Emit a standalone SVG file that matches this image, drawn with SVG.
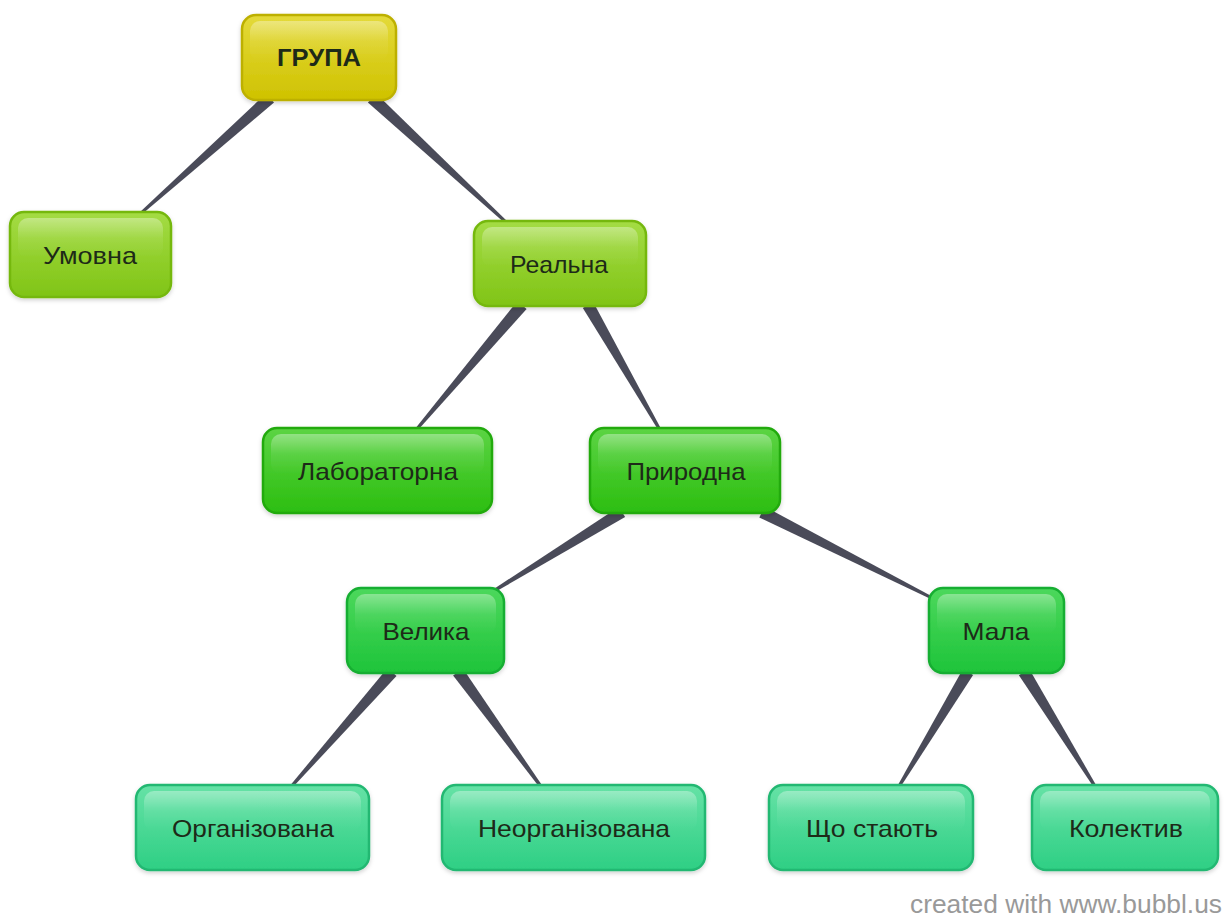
<svg xmlns="http://www.w3.org/2000/svg" width="1228" height="918" viewBox="0 0 1228 918">
<defs>
<linearGradient id="gY" x1="0" y1="0" x2="0" y2="1"><stop offset="0" stop-color="#e4da3a"/><stop offset="1" stop-color="#cfc200"/></linearGradient>
<linearGradient id="g1" x1="0" y1="0" x2="0" y2="1"><stop offset="0" stop-color="#a4dc44"/><stop offset="1" stop-color="#80c416"/></linearGradient>
<linearGradient id="g2" x1="0" y1="0" x2="0" y2="1"><stop offset="0" stop-color="#5cd444"/><stop offset="1" stop-color="#2cbe10"/></linearGradient>
<linearGradient id="g3" x1="0" y1="0" x2="0" y2="1"><stop offset="0" stop-color="#4cd85c"/><stop offset="1" stop-color="#1ec43a"/></linearGradient>
<linearGradient id="g4" x1="0" y1="0" x2="0" y2="1"><stop offset="0" stop-color="#66e2a6"/><stop offset="1" stop-color="#2ecf84"/></linearGradient>
<linearGradient id="hl" x1="0" y1="0" x2="0" y2="1"><stop offset="0" stop-color="#ffffff" stop-opacity="0.35"/><stop offset="0.5" stop-color="#ffffff" stop-opacity="0.08"/><stop offset="1" stop-color="#ffffff" stop-opacity="0"/></linearGradient>
<filter id="sh" x="-10%" y="-10%" width="120%" height="130%"><feDropShadow dx="0" dy="2" stdDeviation="2" flood-color="#000" flood-opacity="0.18"/></filter>
</defs>
<style>
.n rect.o{stroke-width:2.5;filter:url(#sh)}
.n rect.h{fill:url(#hl)}
.n text{font-family:"Liberation Sans",Arial,sans-serif;font-size:24px;fill:#1d2a18;text-anchor:middle}
.y rect.o{fill:url(#gY);stroke:#bdb000}
.l1 rect.o{fill:url(#g1);stroke:#74b80e}
.l2 rect.o{fill:url(#g2);stroke:#22aa0c}
.l3 rect.o{fill:url(#g3);stroke:#16ae30}
.l4 rect.o{fill:url(#g4);stroke:#22b872}
.c polygon{fill:#4a4b59}
.wm{font-family:"Liberation Sans",Arial,sans-serif;font-size:25px;fill:#999999;text-anchor:end}
</style>
<rect width="1228" height="918" fill="#ffffff"/>
<g id="connectors" class="c">
<polygon points="266,93.5 139,212.9 141,215.1 274,102.5"/>
<polygon points="367.9,102.4 507,225.1 509,222.9 376.1,93.6"/>
<polygon points="517.4,301.1 414.9,429 417.1,431 526.6,308.9"/>
<polygon points="582.8,308 658.7,430.75 661.3,429.25 593.2,302"/>
<polygon points="618.9,506.9 491.2,590.7 492.8,593.3 625.1,517.1"/>
<polygon points="759.3,517.4 931.3,599.3 932.7,596.7 764.7,506.6"/>
<polygon points="387.5,668 288.9,787 291.1,789 396.5,676"/>
<polygon points="453.1,675.5 540.8,788.9 543.2,787.1 462.9,668.5"/>
<polygon points="962.9,668.9 896.7,787.2 899.3,788.8 973.1,675.1"/>
<polygon points="1018.9,675.2 1094.7,788.8 1097.3,787.2 1029.1,668.8"/>
</g>
<g id="n-grupa" class="n y"><rect class="o" x="242" y="15" width="154" height="85" rx="14"/><rect class="h" x="250" y="21" width="138" height="40" rx="10"/><text x="319" y="66" font-weight="bold" font-size="23" textLength="84" lengthAdjust="spacingAndGlyphs">ГРУПА</text></g>
<g id="n-umovna" class="n l1"><rect class="o" x="10" y="212" width="161" height="85" rx="14"/><rect class="h" x="18" y="218" width="145" height="40" rx="10"/><text x="90" y="264" textLength="94" lengthAdjust="spacingAndGlyphs">Умовна</text></g>
<g id="n-realna" class="n l1"><rect class="o" x="474" y="221" width="172" height="85" rx="14"/><rect class="h" x="482" y="227" width="156" height="40" rx="10"/><text x="559" y="273" textLength="98" lengthAdjust="spacingAndGlyphs">Реальна</text></g>
<g id="n-lab" class="n l2"><rect class="o" x="263" y="428" width="229" height="85" rx="14"/><rect class="h" x="271" y="434" width="213" height="40" rx="10"/><text x="378" y="480" textLength="160" lengthAdjust="spacingAndGlyphs">Лабораторна</text></g>
<g id="n-pryrodna" class="n l2"><rect class="o" x="590" y="428" width="190" height="85" rx="14"/><rect class="h" x="598" y="434" width="174" height="40" rx="10"/><text x="686" y="480" textLength="119" lengthAdjust="spacingAndGlyphs">Природна</text></g>
<g id="n-velyka" class="n l3"><rect class="o" x="347" y="588" width="157" height="85" rx="14"/><rect class="h" x="355" y="594" width="141" height="40" rx="10"/><text x="426" y="640" textLength="87" lengthAdjust="spacingAndGlyphs">Велика</text></g>
<g id="n-mala" class="n l3"><rect class="o" x="929" y="588" width="135" height="85" rx="14"/><rect class="h" x="937" y="594" width="119" height="40" rx="10"/><text x="996" y="640" textLength="67" lengthAdjust="spacingAndGlyphs">Мала</text></g>
<g id="n-org" class="n l4"><rect class="o" x="136" y="785" width="233" height="85" rx="14"/><rect class="h" x="144" y="791" width="217" height="40" rx="10"/><text x="253" y="837" textLength="162" lengthAdjust="spacingAndGlyphs">Організована</text></g>
<g id="n-neorg" class="n l4"><rect class="o" x="442" y="785" width="263" height="85" rx="14"/><rect class="h" x="450" y="791" width="247" height="40" rx="10"/><text x="574" y="837" textLength="192" lengthAdjust="spacingAndGlyphs">Неорганізована</text></g>
<g id="n-scho" class="n l4"><rect class="o" x="769" y="785" width="204" height="85" rx="14"/><rect class="h" x="777" y="791" width="188" height="40" rx="10"/><text x="872" y="837" textLength="132" lengthAdjust="spacingAndGlyphs">Що стають</text></g>
<g id="n-kolektyv" class="n l4"><rect class="o" x="1032" y="785" width="186" height="85" rx="14"/><rect class="h" x="1040" y="791" width="170" height="40" rx="10"/><text x="1126" y="837" textLength="114" lengthAdjust="spacingAndGlyphs">Колектив</text></g>
<text class="wm" x="1222" y="913" textLength="312" lengthAdjust="spacingAndGlyphs">created with www.bubbl.us</text>
</svg>
